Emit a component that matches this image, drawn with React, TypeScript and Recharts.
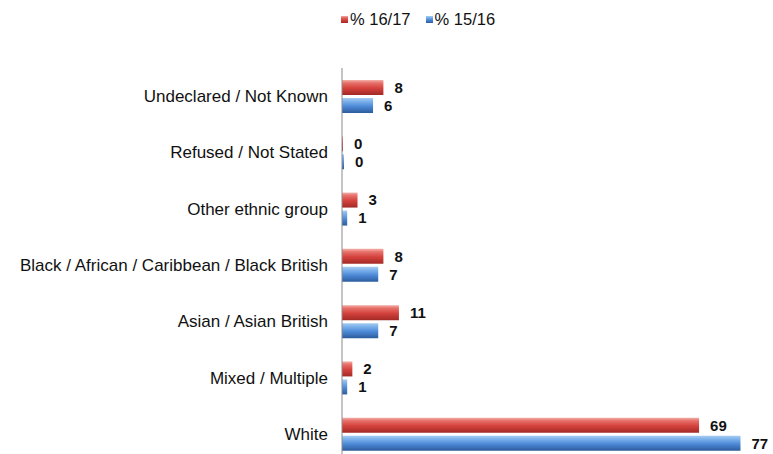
import { Bar, BarChart, LabelList, XAxis, YAxis } from "recharts";

const categories = [
  "Undeclared / Not Known",
  "Refused / Not Stated",
  "Other ethnic group",
  "Black / African / Caribbean / Black British",
  "Asian / Asian British",
  "Mixed / Multiple",
  "White",
];
const pct1617 = [8, 0, 3, 8, 11, 2, 69];
const pct1516 = [6, 0, 1, 7, 7, 1, 77];

const data = categories.map((name, i) => ({
  name,
  y1617: pct1617[i],
  y1516: pct1516[i],
}));

const FONT = "'Liberation Sans', Arial, sans-serif";
const valueStyle = { fill: "#111", fontSize: 15, fontWeight: 700, fontFamily: FONT };

function LegendBox() {
  const items = [
    { label: "% 16/17", color: "url(#redBar)" },
    { label: "% 15/16", color: "url(#blueBar)" },
  ];
  return (
    <div
      style={{
        position: "absolute",
        top: 10,
        left: 341,
        display: "flex",
        gap: 15,
        fontFamily: FONT,
        fontSize: 16.5,
        color: "#111",
      }}
    >
      {items.map((it) => (
        <div key={it.label} style={{ display: "flex", alignItems: "center" }}>
          <svg width={7} height={7} style={{ marginRight: 2 }}>
            <rect width={7} height={7} fill={it.color} />
          </svg>
          <span>{it.label}</span>
        </div>
      ))}
    </div>
  );
}

export default function App() {
  return (
    <div
      style={{
        position: "fixed",
        top: 0,
        left: 0,
        width: 773,
        height: 454,
        overflow: "hidden",
        background: "#fff",
      }}
    >
      <BarChart
        width={773}
        height={470}
        data={data}
        layout="vertical"
        margin={{ top: 68, right: 17, bottom: 8, left: 0 }}
        barSize={15}
        barGap={3}
      >
        <defs>
          <linearGradient id="redBar" x1="0" y1="0" x2="0" y2="1">
            <stop offset="0%" stopColor="#f2b0a8" />
            <stop offset="20%" stopColor="#e7706b" />
            <stop offset="55%" stopColor="#d4413c" />
            <stop offset="100%" stopColor="#a22a26" />
          </linearGradient>
          <linearGradient id="blueBar" x1="0" y1="0" x2="0" y2="1">
            <stop offset="0%" stopColor="#a8cdf2" />
            <stop offset="20%" stopColor="#80b4ec" />
            <stop offset="55%" stopColor="#4d8ad8" />
            <stop offset="100%" stopColor="#2c5c9c" />
          </linearGradient>
        </defs>
        <XAxis type="number" domain={[0, 80]} hide />
        <YAxis
          type="category"
          dataKey="name"
          width={342}
          tickLine={false}
          axisLine={{ stroke: "#8a8a8a" }}
          tickMargin={8}
          tick={{ fill: "#111", fontSize: 17, fontFamily: FONT }}
          interval={0}
        />
        <Bar
          dataKey="y1617"
          name="% 16/17"
          fill="url(#redBar)"
          minPointSize={1}
          isAnimationActive={false}
        >
          <LabelList dataKey="y1617" position="right" offset={11} style={valueStyle} />
        </Bar>
        <Bar
          dataKey="y1516"
          name="% 15/16"
          fill="url(#blueBar)"
          minPointSize={2}
          isAnimationActive={false}
        >
          <LabelList dataKey="y1516" position="right" offset={11} style={valueStyle} />
        </Bar>
      </BarChart>
      <LegendBox />
    </div>
  );
}
